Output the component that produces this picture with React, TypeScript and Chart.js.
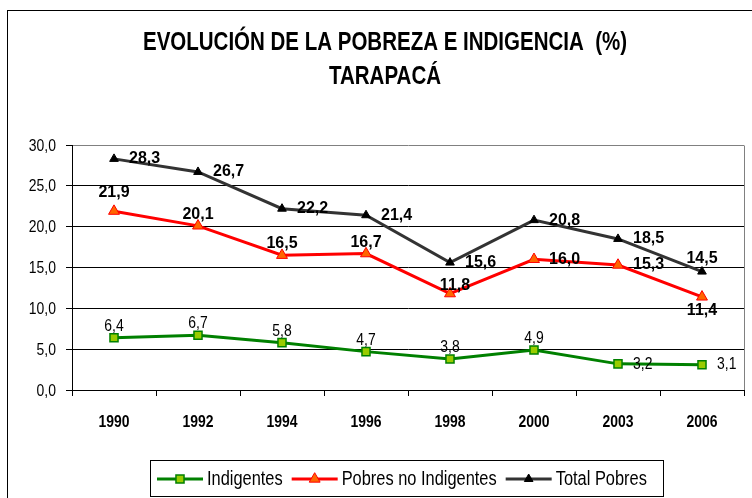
import React, { useEffect, useRef } from 'react';
import { Chart, registerables } from 'chart.js';

Chart.register(...registerables);

// ---------- data ----------
const years = ['1990', '1992', '1994', '1996', '1998', '2000', '2003', '2006'];
const indigentes = [6.4, 6.7, 5.8, 4.7, 3.8, 4.9, 3.2, 3.1];
const pobresNoIndigentes = [21.9, 20.1, 16.5, 16.7, 11.8, 16.0, 15.3, 11.4];
const totalPobres = [28.3, 26.7, 22.2, 21.4, 15.6, 20.8, 18.5, 14.5];
const seriesNames = ['Indigentes', 'Pobres no Indigentes', 'Total Pobres'];
const titleLines = ['EVOLUCIÓN DE LA POBREZA E INDIGENCIA  (%)', 'TARAPACÁ'];
const yMin = 0;
const yMax = 30;
const yStep = 5;

// ---------- styles ----------
const ARIAL = "'Liberation Sans', Arial, sans-serif";
const NARROW_SCALE = 0.82; // emulate Arial Narrow by horizontal compression

const seriesStyles = [
  { line: '#008000', fill: '#99CC00', border: '#008000', shape: 'rect', radius: 5.7, bw: 1.5 },
  { line: '#FF0000', fill: '#FF6600', border: '#FF0000', shape: 'triangle', radius: 6.3, bw: 1 },
  { line: '#333333', fill: '#000000', border: '#000000', shape: 'triangle', radius: 5, bw: 1 },
];

// label placement per series: a = above, a2 = further above, a3 = above shifted right, r = right, b = below
const labelPlacement = [
  ['a', 'a', 'a', 'a', 'a', 'a', 'r', 'r'],
  ['a2', 'a', 'a', 'a', 'a3', 'r', 'r', 'b'],
  ['r', 'r', 'r', 'r', 'r', 'r', 'r', 'a'],
];

const fmt = (v: number) => Number(v).toFixed(1).replace('.', ',');

function narrowText(ctx: CanvasRenderingContext2D, text: string, x: number, y: number, font: string, align: CanvasTextAlign, baseline: CanvasTextBaseline) {
  ctx.save();
  ctx.font = font;
  ctx.textAlign = align;
  ctx.textBaseline = baseline;
  ctx.translate(x, y);
  ctx.scale(NARROW_SCALE, 1);
  ctx.fillText(text, 0, 0);
  ctx.restore();
}

function narrowWidth(ctx: CanvasRenderingContext2D, text: string, font: string) {
  ctx.save();
  ctx.font = font;
  const w = ctx.measureText(text).width * NARROW_SCALE;
  ctx.restore();
  return w;
}

function drawMarker(ctx: CanvasRenderingContext2D, shape: string, x: number, y: number, r: number, fill: string, border: string, bw: number) {
  ctx.beginPath();
  if (shape === 'rect') {
    const s = Math.SQRT1_2 * r;
    ctx.rect(x - s, y - s, 2 * s, 2 * s);
  } else {
    let rad = 0;
    const step = (2 * Math.PI) / 3;
    ctx.moveTo(x + Math.sin(rad) * r, y - Math.cos(rad) * r);
    rad += step;
    ctx.lineTo(x + Math.sin(rad) * r, y - Math.cos(rad) * r);
    rad += step;
    ctx.lineTo(x + Math.sin(rad) * r, y - Math.cos(rad) * r);
    ctx.closePath();
  }
  ctx.fillStyle = fill;
  ctx.fill();
  ctx.lineWidth = bw;
  ctx.strokeStyle = border;
  ctx.stroke();
}

const decorPlugin = {
  id: 'decor',
  beforeDraw(chart: any) {
    const ctx = chart.ctx;
    ctx.save();
    ctx.fillStyle = '#ffffff';
    ctx.fillRect(0, 0, chart.width, chart.height);
    ctx.restore();
  },
  afterDatasetsDraw(chart: any) {
    const ctx = chart.ctx as CanvasRenderingContext2D;
    ctx.save();
    ctx.fillStyle = '#000';
    chart.data.datasets.forEach((ds: any, di: number) => {
      const meta = chart.getDatasetMeta(di);
      const narrow = di === 0;
      const font = narrow ? `17px ${ARIAL}` : `bold 16px ${ARIAL}`;
      meta.data.forEach((pt: any, i: number) => {
        const txt = fmt(ds.data[i]);
        const p = labelPlacement[di][i];
        const x = pt.x;
        const y = pt.y;
        let tx = x, ty = y;
        let align: CanvasTextAlign = 'center';
        let base: CanvasTextBaseline = 'alphabetic';
        if (p === 'r') {
          align = 'left';
          base = 'middle';
          tx = x + 15;
        } else if (p === 'b') {
          ty = y + 18;
        } else {
          const dy = p === 'a2' ? 14 : p === 'a3' ? 4 : di === 2 ? 9 : 7;
          tx = x + (p === 'a3' ? 5 : 0);
          ty = y - dy;
        }
        if (narrow) {
          narrowText(ctx, txt, tx, ty, font, align, base);
        } else {
          ctx.font = font;
          ctx.textAlign = align;
          ctx.textBaseline = base;
          ctx.fillText(txt, tx, ty);
        }
      });
    });
    ctx.restore();
  },
  afterDraw(chart: any) {
    const ctx = chart.ctx as CanvasRenderingContext2D;
    const a = chart.chartArea;
    ctx.save();
    ctx.fillStyle = '#000';

    // axis tick labels, placed from the library's scales
    const xs = chart.scales.x;
    const ys = chart.scales.y;
    const xFont = `bold 17px ${ARIAL}`;
    const yFont = `17px ${ARIAL}`;
    (chart.data.labels as string[]).forEach((lab, i) => {
      narrowText(ctx, lab, xs.getPixelForTick(i), a.bottom + 36.5, xFont, 'center', 'alphabetic');
    });
    ys.ticks.forEach((t: any) => {
      narrowText(ctx, fmt(t.value), a.left - 16, ys.getPixelForValue(t.value) + 5.5, yFont, 'right', 'alphabetic');
    });

    // plot area right border
    ctx.strokeStyle = '#808080';
    ctx.lineWidth = 1;
    ctx.beginPath();
    ctx.moveTo(Math.round(a.right) + 0.5, Math.round(a.top) + 0.5);
    ctx.lineTo(Math.round(a.right) + 0.5, Math.round(a.bottom));
    ctx.stroke();

    // outer frame
    ctx.strokeStyle = '#000';
    ctx.lineWidth = 1;
    ctx.strokeRect(7.5, 10.5, 800, 600);

    // title
    const tFont = `bold 25px ${ARIAL}`;
    narrowText(ctx, titleLines[0], 385, 43, tFont, 'center', 'middle');
    narrowText(ctx, titleLines[1], 385, 77, tFont, 'center', 'middle');

    // legend
    const boxL = 150.5, boxT = 460.5, boxW = 513, boxH = 36;
    ctx.strokeStyle = '#000';
    ctx.lineWidth = 1;
    ctx.strokeRect(boxL, boxT, boxW, boxH);
    const lFont = `20px ${ARIAL}`;
    let x = 157;
    const ly = 479;
    seriesNames.forEach((name, i) => {
      const st = seriesStyles[i];
      ctx.strokeStyle = st.line;
      ctx.lineWidth = 3;
      ctx.beginPath();
      ctx.moveTo(x, ly);
      ctx.lineTo(x + 46, ly);
      ctx.stroke();
      drawMarker(ctx, st.shape, x + 23, ly, st.radius, st.fill, st.border, st.bw);
      x += 50;
      ctx.fillStyle = '#000';
      narrowText(ctx, name, x, ly, lFont, 'left', 'middle');
      x += narrowWidth(ctx, name, lFont) + 9;
    });
    ctx.restore();
  },
};

export default function App() {
  const ref = useRef<HTMLCanvasElement | null>(null);
  useEffect(() => {
    if (!ref.current) return;
    const series = [indigentes, pobresNoIndigentes, totalPobres];
    const chart = new Chart(ref.current, {
      type: 'line',
      data: {
        labels: years,
        datasets: series.map((d, i) => ({
          label: seriesNames[i],
          data: d,
          borderColor: seriesStyles[i].line,
          backgroundColor: seriesStyles[i].fill,
          borderWidth: 3,
          tension: 0,
          fill: false,
          pointStyle: seriesStyles[i].shape as any,
          pointRadius: seriesStyles[i].radius,
          pointBackgroundColor: seriesStyles[i].fill,
          pointBorderColor: seriesStyles[i].border,
          pointBorderWidth: seriesStyles[i].bw,
        })),
      },
      options: {
        responsive: false,
        animation: false,
        devicePixelRatio: 1,
        events: [],
        layout: { padding: { top: 145, right: 8, left: 0, bottom: 0 } },
        plugins: {
          legend: { display: false },
          title: { display: false },
          tooltip: { enabled: false },
        },
        scales: {
          x: {
            offset: true,
            grid: { offset: true, drawOnChartArea: false, drawTicks: true, tickLength: 6, color: '#000' },
            border: { color: '#000', width: 1 },
            ticks: { display: false, autoSkip: false, maxRotation: 0 },
            afterFit: (s: any) => { s.height = 108; },
          },
          y: {
            min: yMin,
            max: yMax,
            ticks: { display: false, stepSize: yStep },
            grid: {
              color: (c: any) => (c.tick && c.tick.value === yMax ? '#808080' : '#000'),
              tickColor: '#000',
              tickLength: 6,
              lineWidth: 1,
            },
            border: { color: '#000', width: 1 },
            afterFit: (s: any) => { s.width = 72; },
          },
        },
      },
      plugins: [decorPlugin],
    });
    return () => chart.destroy();
  }, []);
  return (
    <div style={{ position: 'absolute', left: 0, top: 0, width: 752, height: 498 }}>
      <canvas ref={ref} width={752} height={498} style={{ display: 'block' }} />
    </div>
  );
}
